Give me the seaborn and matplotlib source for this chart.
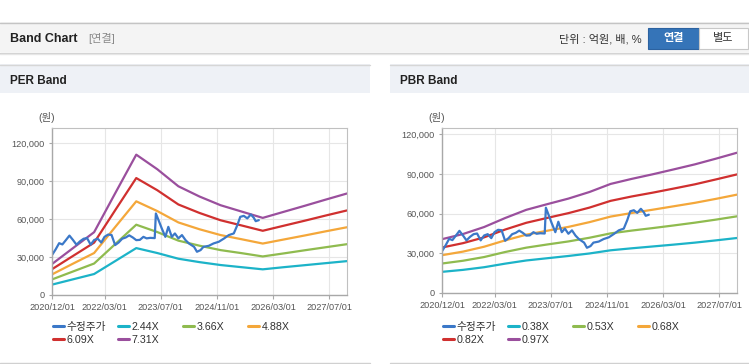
import numpy as np
import pandas as pd
import matplotlib
matplotlib.use("Agg")
import matplotlib.pyplot as plt
from matplotlib.patches import Rectangle
from matplotlib.lines import Line2D
from matplotlib.ticker import FuncFormatter
import seaborn as sns

# DATA
band_dates = ["2020-12-01", "2021-06-01", "2021-12-01", "2022-06-01", "2022-12-01",
              "2023-06-01", "2023-12-01", "2024-06-01", "2024-12-01", "2025-06-01",
              "2025-12-01", "2026-06-01", "2026-12-01", "2027-06-01", "2027-12-01"]

per_labels = ["2.44X", "3.66X", "4.88X", "6.09X", "7.31X"]
per_244 = [8200, 12400, 16600, 26800, 37100, 33200, 28700, 26000, 23700, 22000, 20300, 22000, 23600, 25200, 26800]
per_366 = [12300, 18600, 24900, 40200, 55600, 49800, 43000, 39000, 35500, 33100, 30500, 32900, 35400, 37800, 40200]
per_488 = [16300, 24800, 33200, 53700, 74100, 66400, 57400, 52000, 47400, 44100, 40700, 43900, 47100, 50400, 53600]
per_609 = [20400, 30900, 41400, 67000, 92500, 82900, 71600, 64900, 59100, 55000, 50800, 54800, 58800, 62900, 66900]
per_731 = [24500, 37100, 49700, 80400, 111000, 99500, 86000, 77900, 71000, 66000, 61000, 65800, 70600, 75500, 80300]

pbr_labels = ["0.38X", "0.53X", "0.68X", "0.82X", "0.97X"]
pbr_038 = [16000, 17500, 19500, 22200, 24600, 26300, 28000, 29900, 32300, 33800, 35200, 36600, 38100, 39800, 41600]
pbr_053 = [22300, 24400, 27200, 31000, 34300, 36700, 39000, 41800, 45100, 47200, 49100, 51100, 53200, 55500, 58000]
pbr_068 = [28600, 31300, 35000, 39800, 44100, 47100, 50000, 53600, 57800, 60500, 63000, 65600, 68200, 71200, 74400]
pbr_082 = [34400, 37700, 42100, 48000, 53100, 56800, 60400, 64600, 69700, 73000, 75900, 79000, 82200, 85900, 89700]
pbr_097 = [40700, 44600, 49900, 56700, 62900, 67200, 71400, 76400, 82500, 86300, 89800, 93500, 97300, 101600, 106100]

price_label = "수정주가"
price_dates = ["2020-12-01", "2021-01-01", "2021-02-01", "2021-03-01", "2021-04-01", "2021-05-01",
               "2021-06-01", "2021-07-01", "2021-08-01", "2021-09-01", "2021-10-01", "2021-11-01",
               "2021-12-01", "2022-01-01", "2022-02-01", "2022-03-01", "2022-04-01", "2022-05-01",
               "2022-06-01", "2022-07-01", "2022-08-01", "2022-09-01", "2022-10-01", "2022-11-01",
               "2022-12-01", "2023-01-01", "2023-02-01", "2023-03-01", "2023-04-01", "2023-05-10",
               "2023-05-20", "2023-06-12", "2023-07-10", "2023-08-10", "2023-09-05", "2023-10-05",
               "2023-11-01", "2023-12-01", "2024-01-01", "2024-02-01", "2024-03-01", "2024-04-15",
               "2024-05-10", "2024-06-10", "2024-07-05", "2024-08-20", "2024-10-01", "2024-11-15",
               "2025-01-01", "2025-02-10", "2025-03-25", "2025-04-25", "2025-05-20", "2025-06-20",
               "2025-07-20", "2025-08-20", "2025-09-15", "2025-10-01", "2025-10-28"]
price = [31600, 36000, 41000, 40000, 43500, 47000, 43500, 39800, 42500, 44500, 45000, 39800,
         43500, 44500, 41500, 46000, 47800, 47500, 39500, 41500, 44500, 45500, 47200, 45500,
         43400, 43600, 46000, 44800, 45200, 45000, 64500, 59200, 52700, 46000, 53900, 46000,
         48700, 44800, 47400, 43400, 40800, 38100, 34200, 35500, 38100, 38900, 40800, 42100,
         44800, 47400, 48700, 55300, 61800, 62600, 60600, 63700, 61000, 58400, 59200]

tick_dates = ["2020-12-01", "2022-03-01", "2023-07-01", "2024-11-01", "2026-03-01", "2027-07-01"]
tick_labels = ["2020/12/01", "2022/03/01", "2023/07/01", "2024/11/01", "2026/03/01", "2027/07/01"]
y_ticks = [0, 30000, 60000, 90000, 120000]

price_color = "#3b78c8"
band_colors = ["#1cb3c8", "#8fbb4f", "#f4a73a", "#d0302f", "#9a4f9d"]

# STYLE
sns.set_theme(style="white")
plt.rcParams["font.family"] = ["Liberation Sans", "Noto Sans CJK KR"]
plt.rcParams["axes.unicode_minus"] = False

W, H = 749, 364
fig = plt.figure(figsize=(W / 100, H / 100), dpi=100)
fig.patch.set_facecolor("white")


def fx(x):
    return x / W


def fy(y):
    return 1 - y / H


def rect(x0, y0, x1, y1, fc, ec="none", lw=0, z=0):
    fig.patches.append(Rectangle((fx(x0), fy(y1)), fx(x1) - fx(x0), fy(y0) - fy(y1),
                                 transform=fig.transFigure, facecolor=fc, edgecolor=ec,
                                 linewidth=lw, zorder=z))


def hline(x0, x1, y, color, lw=1.0):
    fig.add_artist(Line2D([fx(x0), fx(x1)], [fy(y), fy(y)], transform=fig.transFigure,
                          color=color, linewidth=lw))


# page header
rect(0, 22, W, 52, "#f4f4f4")
hline(0, W, 22.5, "#c4c4c4")
hline(0, W, 52.5, "#d0d0d0")
hline(0, W, 53.5, "#e6e6e6")
fig.text(fx(10), fy(39), "Band Chart", fontsize=9, fontweight="bold", color="#222222", va="center")
fig.text(fx(88), fy(39), "[연결]", fontsize=8, color="#8a8a8a", va="center")
fig.text(fx(642), fy(39), "단위 : 억원, 배, %", fontsize=8, color="#333333", va="center", ha="right")
rect(648, 28, 699, 49, "#3574b8", ec="#2c62a0", lw=0.8, z=2)
rect(699, 28, 748, 49, "#ffffff", ec="#c8c8c8", lw=0.8, z=2)
fig.text(fx(673.5), fy(38.5), "연결", fontsize=8, fontweight="bold", color="white", va="center", ha="center")
fig.text(fx(723.5), fy(38.5), "별도", fontsize=8, color="#333333", va="center", ha="center")

# panel headers
for x0, x1, title in [(0, 370, "PER Band"), (390, W, "PBR Band")]:
    rect(x0, 64, x1, 92.5, "#eef1f6")
    hline(x0, x1, 64.5, "#d6d6d6")
    hline(x0, x1, 363, "#d0d0d0")
    fig.text(fx(x0 + 10), fy(80.5), title, fontsize=8.5, fontweight="bold", color="#222222", va="center")


def make_frame(dates, bands, labels):
    frames = []
    for vals, lab in zip(bands, labels):
        frames.append(pd.DataFrame({"date": pd.to_datetime(dates), "value": vals, "series": lab}))
    return frames


def draw_panel(rect_px, bands, labels, ytop, legend_x):
    left, top, right, bottom = rect_px
    ax = fig.add_axes([fx(left), fy(bottom), fx(right) - fx(left), fy(top) - fy(bottom)])
    parts = make_frame(band_dates, bands, labels)
    parts.append(pd.DataFrame({"date": pd.to_datetime(price_dates), "value": price, "series": price_label}))
    df = pd.concat(parts, ignore_index=True)
    palette = dict(zip(labels, band_colors))
    palette[price_label] = price_color
    sns.lineplot(data=df, x="date", y="value", hue="series", hue_order=labels + [price_label],
                 palette=palette, estimator=None, linewidth=1.6, legend=False, ax=ax)

    ax.set_xlim(pd.Timestamp("2020-12-01"), pd.Timestamp("2027-12-01"))
    ax.set_ylim(0, ytop)
    ax.set_xticks(pd.to_datetime(tick_dates))
    ax.set_xticklabels(tick_labels)
    ax.set_yticks(y_ticks)
    ax.yaxis.set_major_formatter(FuncFormatter(lambda v, p: f"{v:,.0f}"))
    ax.set_xlabel("")
    ax.set_ylabel("")
    ax.grid(True, color="#e6e6e6", linewidth=0.8)
    ax.set_axisbelow(True)
    for side in ["left", "bottom"]:
        ax.spines[side].set_color("#a8a8a8")
        ax.spines[side].set_linewidth(1.0)
    for side in ["top", "right"]:
        ax.spines[side].set_color("#c0c0c0")
        ax.spines[side].set_linewidth(0.8)
    ax.tick_params(axis="x", which="major", direction="out", length=3, width=0.8, color="#a8a8a8",
                   labelsize=6.6, labelcolor="#555555", pad=3, bottom=True)
    ax.tick_params(axis="y", which="major", direction="out", length=2.5, width=0.8, color="#a8a8a8",
                   labelsize=6.6, labelcolor="#555555", pad=3, left=True)

    fig.text(fx(left - 14), fy(118), "(원)", fontsize=7.5, color="#555555", va="center", ha="left")

    # legend, row-major like the original, fixed column widths
    handles = {lab: Line2D([], [], color=palette[lab], linewidth=2.2) for lab in palette}
    columns = [[price_label, labels[3]], [labels[0], labels[4]], [labels[1]], [labels[2]]]
    for i, col in enumerate(columns):
        leg = fig.legend([handles[c] for c in col], col, loc="upper left",
                         bbox_to_anchor=(fx(legend_x + 65 * i), fy(322)), frameon=False,
                         fontsize=7.7, handlelength=1.05, handletextpad=0.25, borderpad=0,
                         borderaxespad=0, labelspacing=0.3)
        for t in leg.get_texts():
            t.set_color("#333333")
    return ax


draw_panel((52, 128, 347, 295), [per_244, per_366, per_488, per_609, per_731], per_labels, 132100, 53)
draw_panel((442, 128, 737, 293), [pbr_038, pbr_053, pbr_068, pbr_082, pbr_097], pbr_labels, 124800, 443)

fig.savefig("out.png", dpi=100)
